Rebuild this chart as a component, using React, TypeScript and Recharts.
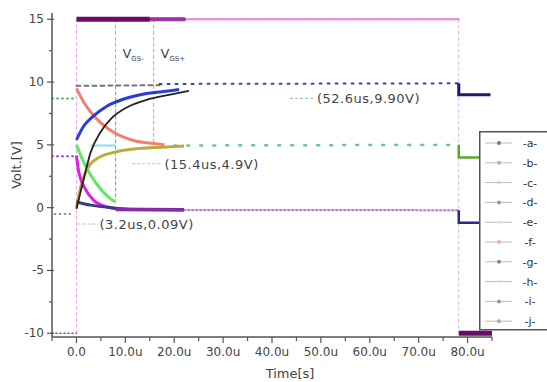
import { LineChart, Line, XAxis, YAxis, ReferenceDot } from "recharts";

type Pt = { t: number; v: number };

const xTicks = [-5, 0, 5, 10, 15, 20, 25, 30, 35, 40, 45, 50, 55, 60, 65, 70, 75, 80, 85];
const xMajor = [0, 10, 20, 30, 40, 50, 60, 70, 80];
const yTicks = [-10, -7.5, -5, -2.5, 0, 2.5, 5, 7.5, 10, 12.5, 15];
const yMajor = [-10, -5, 0, 5, 10, 15];
const legendLabels = ["a", "b", "c", "d", "e", "f", "g", "h", "i", "j"];
const legendDots = ["#777", "#e0a0a0", "#d8d8d8", "#999", "#c8eef4", "#f0b0b0", "#888", "#e0e0e0", "#999", "#aaa"];

// gate drive (square)
const driveLow: Pt[] = [{ t: -5, v: -10 }, { t: 0, v: -10 }];
const driveOn: Pt[] = [{ t: 0, v: 15 }, { t: 15, v: 15 }];
const driveFade: Pt[] = [{ t: 15, v: 15 }, { t: 22, v: 15 }];
const driveTail: Pt[] = [{ t: 22, v: 15 }, { t: 78.2, v: 15 }];
const driveOff: Pt[] = [{ t: 78.2, v: -10 }, { t: 85, v: -10 }];

// transient curves
const blueRise: Pt[] = [
  { t: 0, v: 5.4 }, { t: 1.5, v: 6.5 }, { t: 3.5, v: 7.3 }, { t: 6.3, v: 8.1 },
  { t: 9.7, v: 8.65 }, { t: 13.8, v: 9.05 }, { t: 19.2, v: 9.3 }, { t: 21, v: 9.4 },
];
const blackRise: Pt[] = [
  { t: 0, v: -0.1 }, { t: 1.5, v: 2.3 }, { t: 2.9, v: 4.4 }, { t: 4.9, v: 6.0 },
  { t: 7, v: 7.05 }, { t: 10.4, v: 8.0 }, { t: 14.5, v: 8.6 }, { t: 19.2, v: 9.0 }, { t: 23, v: 9.3 },
];
const salmonFall: Pt[] = [
  { t: 0, v: 9.5 }, { t: 1.5, v: 8.4 }, { t: 4.2, v: 7.05 }, { t: 7.6, v: 6.0 },
  { t: 11.7, v: 5.35 }, { t: 15.8, v: 5.1 }, { t: 18, v: 5.0 },
];
const oliveRise: Pt[] = [
  { t: 0, v: 0 }, { t: 0.8, v: 1.5 }, { t: 2.2, v: 3.1 }, { t: 4.2, v: 3.9 },
  { t: 7.6, v: 4.4 }, { t: 12.4, v: 4.7 }, { t: 19.2, v: 4.85 }, { t: 22, v: 4.9 },
];
const magentaFall: Pt[] = [
  { t: 0, v: 4.15 }, { t: 0.5, v: 2.8 }, { t: 1.8, v: 1.5 }, { t: 3.5, v: 0.6 },
  { t: 6.3, v: 0.05 }, { t: 10.4, v: -0.15 },
];
const greenFall: Pt[] = [
  { t: 0, v: 5.0 }, { t: 1.5, v: 3.6 }, { t: 2.9, v: 2.6 }, { t: 4.9, v: 1.5 },
  { t: 7, v: 0.7 }, { t: 8, v: 0.45 },
];
const navyFall: Pt[] = [
  { t: 0, v: 0.45 }, { t: 2.9, v: 0.2 }, { t: 7, v: 0 }, { t: 12.4, v: -0.13 }, { t: 22, v: -0.15 },
];
const cyanFlat: Pt[] = [{ t: 2.9, v: 4.95 }, { t: 8, v: 4.95 }];

// steady state
const lowMerge: Pt[] = [{ t: 8, v: -0.15 }, { t: 22, v: -0.18 }];
const lowTail: Pt[] = [{ t: 22, v: -0.18 }, { t: 78.2, v: -0.2 }];
const midTail: Pt[] = [{ t: 20, v: 4.95 }, { t: 78.2, v: 5.0 }];
const topGray: Pt[] = [{ t: 0, v: 9.7 }, { t: 17, v: 9.75 }];
const topTail: Pt[] = [{ t: 17, v: 9.85 }, { t: 78.2, v: 9.9 }];

// turn-off steps
const topStep: Pt[] = [{ t: 78.2, v: 9.9 }, { t: 78.2, v: 9.0 }, { t: 84.7, v: 9.0 }];
const midStep: Pt[] = [{ t: 78.2, v: 5.0 }, { t: 78.2, v: 4.0 }, { t: 85, v: 4.0 }];
const lowStep: Pt[] = [{ t: 78.2, v: -0.2 }, { t: 78.2, v: -1.2 }, { t: 85, v: -1.2 }];

// before turn-on
const preGreen: Pt[] = [{ t: -5, v: 8.7 }, { t: 0, v: 8.7 }];
const preBlue: Pt[] = [{ t: -5, v: 4.1 }, { t: 0, v: 4.1 }];
const preNavy: Pt[] = [{ t: -4.5, v: -0.5 }, { t: -1, v: -0.5 }];

// markers / leaders
const zeroV: Pt[] = [{ t: 0, v: -10 }, { t: 0, v: 15 }];
const stepV: Pt[] = [{ t: 78.2, v: 15 }, { t: 78.2, v: -10 }];
const vgsMinusTop: Pt[] = [{ t: 8, v: 15 }, { t: 8, v: 9.7 }];
const vgsMinusLow: Pt[] = [{ t: 8, v: 9.7 }, { t: 8, v: 0.6 }];
const vgsPlus: Pt[] = [{ t: 15.8, v: 15 }, { t: 15.8, v: 5.1 }];
const lead1: Pt[] = [{ t: 43.8, v: 8.7 }, { t: 48.6, v: 8.7 }];
const lead2: Pt[] = [{ t: 11.5, v: 3.5 }, { t: 17.6, v: 3.5 }];
const lead3: Pt[] = [{ t: 0.3, v: -1.3 }, { t: 4.4, v: -1.3 }];

const notes = [
  { t: 49.2, v: 8.73, text: "(52.6us,9.90V)" },
  { t: 18.0, v: 3.5, text: "(15.4us,4.9V)" },
  { t: 4.7, v: -1.27, text: "(3.2us,0.09V)" },
];

const FONT = "DejaVu Sans, sans-serif";

function XTick(props: any) {
  const { x, y, payload } = props;
  const major = xMajor.includes(payload.value);
  return (
    <g>
      <line x1={x} y1={y} x2={x} y2={y + (major ? 6 : 4)} stroke="#555" strokeWidth={1.2} />
      {major && (
        <text x={x} y={y + 19} textAnchor="middle" fontSize={12} fontFamily={FONT} fill="#444">
          {payload.value === 0 ? "0.0" : `${payload.value}.0u`}
        </text>
      )}
    </g>
  );
}

function YTick(props: any) {
  const { x, y, payload } = props;
  const major = yMajor.includes(payload.value);
  return (
    <g>
      <line x1={x - (major ? 5 : 3)} y1={y} x2={x + (major ? 2 : 0)} y2={y} stroke="#555" strokeWidth={1.2} />
      {major && (
        <text x={x - 8} y={y + 4} textAnchor="end" fontSize={12} fontFamily={FONT} fill="#444">
          {payload.value}
        </text>
      )}
    </g>
  );
}

function seg(data: Pt[], stroke: string, width: number, dash?: string, type: any = "linear") {
  return (
    <Line
      data={data}
      dataKey="v"
      type={type}
      stroke={stroke}
      strokeWidth={width}
      strokeDasharray={dash}
      strokeLinecap={dash ? "round" : "butt"}
      dot={false}
      activeDot={false}
      isAnimationActive={false}
      legendType="none"
    />
  );
}

function VLabel({ cx, cy, sub }: any) {
  return (
    <text x={cx} y={cy} fontFamily={FONT} fill="#444">
      <tspan fontSize={13}>V</tspan>
      <tspan fontSize={7} dy={3}>{sub}</tspan>
    </text>
  );
}

export default function App() {
  return (
    <div style={{ position: "absolute", left: 0, top: 0, width: 547, height: 382, background: "#fff" }}>
      <LineChart width={547} height={382} margin={{ top: 13, right: 55, bottom: 0, left: 0 }}>
        <XAxis
          type="number"
          dataKey="t"
          domain={[-5, 85]}
          ticks={xTicks}
          interval={0}
          allowDataOverflow
          tickSize={0}
          tickMargin={0}
          tickLine={false}
          tick={<XTick />}
          height={45}
          stroke="#555"
          strokeWidth={1.5}
        />
        <YAxis
          type="number"
          dataKey="v"
          domain={[-10.3, 15.5]}
          ticks={yTicks}
          interval={0}
          allowDataOverflow
          tickSize={0}
          tickMargin={0}
          tickLine={false}
          tick={<YTick />}
          width={52}
          stroke="#555"
          strokeWidth={1.5}
        />

        {seg(zeroV, "#e8a8e8", 1, "3 3")}
        {seg(stepV, "#e8b0e0", 1, "3 3")}
        {seg(vgsMinusTop, "#aaa", 1, "3 3")}
        {seg(vgsMinusLow, "#70c070", 1.2, "3 3")}
        {seg(vgsPlus, "#aaa", 1, "3 3")}
        {seg(lead1, "#bbb", 1.2, "2 3")}
        {seg(lead2, "#ccc", 1.2, "2 3")}
        {seg(lead3, "#bbb", 1.2, "2 3")}

        {seg(preGreen, "#58b858", 2, "1 4")}
        {seg(preBlue, "#a040e8", 2, "1 4")}
        {seg(preNavy, "#667", 1.5, "1 4")}
        {seg(driveLow, "#8a3a9a", 1.5, "1 3")}

        {seg(topGray, "#777", 2, "4 4")}
        {seg(topTail, "#3a46a0", 2, "2 6")}
        {seg(midTail, "#70c498", 2.5, "2 11")}
        {seg(lowTail, "#c070d8", 2, "1.5 2.5")}
        {seg(driveTail, "#e090e0", 2.5, "1.5 2")}
        {seg(driveFade, "#a030a8", 4, "3 1")}
        {seg(driveOn, "#6a0a6a", 5)}

        {seg(cyanFlat, "#8adcf0", 2)}
        {seg(salmonFall, "#f08070", 3, undefined, "monotone")}
        {seg(oliveRise, "#b8ac3c", 3, undefined, "monotone")}
        {seg(greenFall, "#60e860", 3, undefined, "monotone")}
        {seg(magentaFall, "#e020e0", 3, undefined, "monotone")}
        {seg(navyFall, "#3a3a88", 3, undefined, "monotone")}
        {seg(lowMerge, "#8a2aa8", 3.5)}
        {seg(blueRise, "#2a3cd8", 3, undefined, "monotone")}
        {seg(blackRise, "#222", 1.8, undefined, "monotone")}

        {seg(topStep, "#1c1c70", 3)}
        {seg(midStep, "#58a830", 2.5)}
        {seg(lowStep, "#2a2a88", 2.5)}
        {seg(driveOff, "#6a0a6a", 5)}

        <ReferenceDot x={9.4} y={11.9} r={0} shape={(p: any) => <VLabel {...p} sub="GS-" />} />
        <ReferenceDot x={17.2} y={11.9} r={0} shape={(p: any) => <VLabel {...p} sub="GS+" />} />
        {notes.map((n) => (
          <ReferenceDot
            key={n.text}
            x={n.t}
            y={n.v}
            r={0}
            shape={(p: any) => (
              <text x={p.cx} y={p.cy + 5} fontSize={13} fontFamily={FONT} fill="#444" letterSpacing={0.5}>
                {n.text}
              </text>
            )}
          />
        ))}
      </LineChart>

      <div
        style={{
          position: "absolute",
          left: 16,
          top: 165,
          transform: "translate(-50%, -50%) rotate(-90deg)",
          fontFamily: FONT,
          fontSize: 13,
          color: "#444",
          whiteSpace: "nowrap",
        }}
      >
        Volt.[V]
      </div>
      <div
        style={{
          position: "absolute",
          left: 290,
          top: 373,
          transform: "translate(-50%, -50%)",
          fontFamily: FONT,
          fontSize: 13,
          color: "#444",
        }}
      >
        Time[s]
      </div>

      <svg style={{ position: "absolute", left: 479, top: 131 }} width={68} height={200}>
        <rect x={0.75} y={0.75} width={70} height={198} fill="#fff" stroke="#555" strokeWidth={1.5} />
        {legendLabels.map((l, i) => {
          const y = 12 + i * 19.8;
          return (
            <g key={l}>
              <line x1={6} y1={y} x2={33} y2={y} stroke="#bbb" strokeWidth={1} />
              <circle cx={20} cy={y} r={2} fill={legendDots[i]} />
              <text x={51} y={y + 4} textAnchor="middle" fontSize={11} fontFamily={FONT} fill="#333">
                {`-${l}-`}
              </text>
            </g>
          );
        })}
      </svg>
    </div>
  );
}
